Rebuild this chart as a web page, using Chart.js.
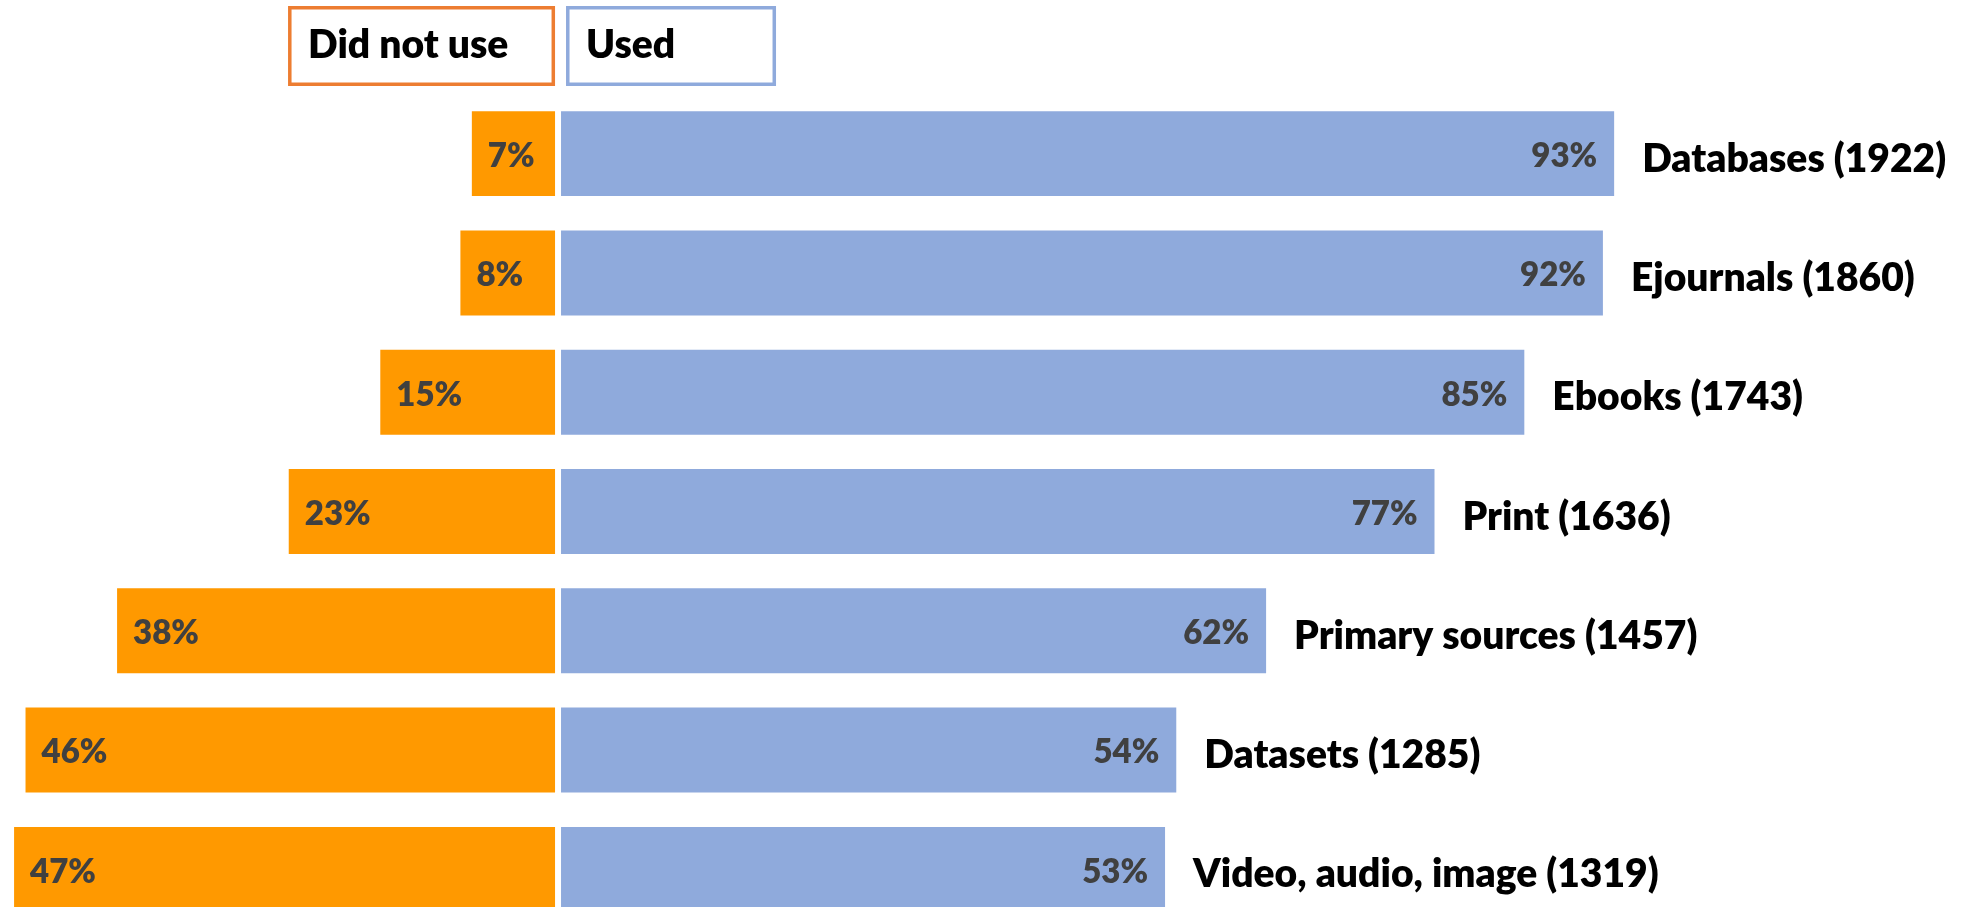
<!DOCTYPE html>
<html>
<head>
<meta charset="utf-8">
<script src="https://cdn.jsdelivr.net/npm/chart.js@4/dist/chart.umd.min.js"></script>
<style>
  html, body { margin: 0; padding: 0; background: #fff; overflow: hidden; }
  #wrap { position: relative; width: 1966px; height: 929px; }
</style>
</head>
<body>
<div id="wrap"><canvas id="usageChart"></canvas></div>
<script>
// Resource usage, share of respondents (n in brackets)
const categories = ['Databases', 'Ejournals', 'Ebooks', 'Print', 'Primary sources', 'Datasets', 'Video, audio, image'];
const respondents = [1922, 1860, 1743, 1636, 1457, 1285, 1319];
const didNotUse = [7, 8, 15, 23, 38, 46, 47];
const used = [93, 92, 85, 77, 62, 54, 53];
const seriesNames = ['Did not use', 'Used'];

const FONT = 'Lato, "Open Sans", sans-serif';
const WEIGHT = 800;
const CAP = 0.72; // Lato cap height / em

function capText(ctx, text, x, yMid, size) {
  // place text so the cap height is centred on yMid
  ctx.textBaseline = 'alphabetic';
  ctx.fillText(text, x, yMid + size * CAP / 2);
}

// percentages inside bars + category names past the blue bars
const barLabels = {
  id: 'barLabels',
  afterDatasetsDraw(chart) {
    const ctx = chart.ctx;
    const leftMeta = chart.getDatasetMeta(0);
    const rightMeta = chart.getDatasetMeta(1);
    ctx.save();

    ctx.font = `${WEIGHT} 33px ${FONT}`;
    ctx.fillStyle = '#404040';
    leftMeta.data.forEach((bar, i) => {
      ctx.textAlign = 'left';
      capText(ctx, didNotUse[i] + '%', bar.x + 16, bar.y + 1.5, 33);
    });
    rightMeta.data.forEach((bar, i) => {
      ctx.textAlign = 'right';
      capText(ctx, used[i] + '%', bar.x - 17, bar.y + 1.5, 33);
    });

    ctx.font = `${WEIGHT} 39px ${FONT}`;
    ctx.fillStyle = '#000';
    rightMeta.data.forEach((bar, i) => {
      ctx.textAlign = 'left';
      capText(ctx, chart.data.labels[i], bar.x + 28, bar.y + 4, 39);
    });
    ctx.restore();
  }
};

// framed legend boxes sitting on top of each half
const legendBoxes = {
  id: 'legendBoxes',
  afterDraw(chart, args, opts) {
    const ctx = chart.ctx;
    const ds = chart.data.datasets;
    const edgeL = chart.scales.xLeft.getPixelForValue(ds[0].base);
    const edgeR = chart.scales.xRight.getPixelForValue(ds[1].base);
    const boxes = [
      { x0: edgeL - 267, x1: edgeL },
      { x0: edgeR + 5, x1: edgeR + 215 }
    ];
    const top = 6, bottom = 86, lw = 3.5;
    ctx.save();
    boxes.forEach((b, i) => {
      ctx.fillStyle = '#fff';
      ctx.fillRect(b.x0, top, b.x1 - b.x0, bottom - top);
      ctx.strokeStyle = opts.borderColors[i];
      ctx.lineWidth = lw;
      ctx.strokeRect(b.x0 + lw / 2, top + lw / 2, b.x1 - b.x0 - lw, bottom - top - lw);
      ctx.fillStyle = '#000';
      ctx.font = `${WEIGHT} 39px ${FONT}`;
      ctx.textAlign = 'left';
      capText(ctx, ds[i].label, b.x0 + 20, 44, 39);
    });
    ctx.restore();
  }
};

const labels = categories.map((c, i) => `${c} (${respondents[i]})`);

new Chart(document.getElementById('usageChart'), {
  type: 'bar',
  data: {
    labels: labels,
    datasets: [
      {
        label: seriesNames[0],
        data: didNotUse,
        xAxisID: 'xLeft',
        base: -0.27,
        backgroundColor: '#FF9900',
        categoryPercentage: 1,
        barPercentage: 0.712
      },
      {
        label: seriesNames[1],
        data: used,
        xAxisID: 'xRight',
        base: -0.8,
        backgroundColor: '#8FAADC',
        categoryPercentage: 1,
        barPercentage: 0.712
      }
    ]
  },
  options: {
    indexAxis: 'y',
    responsive: true,
    maintainAspectRatio: false,
    animation: false,
    layout: { padding: { top: 94, left: 0, right: 0, bottom: 0 } },
    scales: {
      y: { display: false, stacked: true },
      xLeft: { type: 'linear', axis: 'x', display: false, reverse: true, min: -123.56, max: 48.23 },
      xRight: { type: 'linear', axis: 'x', display: false, min: -50.77, max: 124.34 }
    },
    plugins: {
      legend: { display: false },
      tooltip: { enabled: false },
      legendBoxes: { borderColors: ['#ED7D31', '#8FAADC'] }
    }
  },
  plugins: [barLabels, legendBoxes]
});
</script>
</body>
</html>
